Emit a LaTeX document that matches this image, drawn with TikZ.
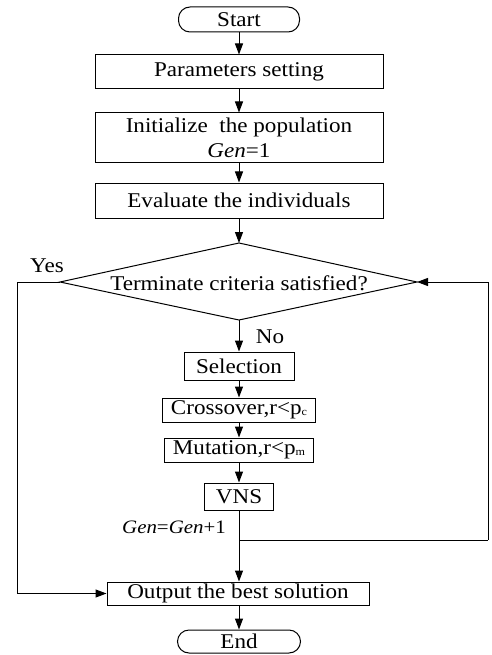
\documentclass[tikz,border=0pt]{standalone}
\usepackage{fontspec}
\setmainfont{Liberation Serif}[FakeStretch=1.1]
\usetikzlibrary{arrows.meta}
\begin{document}
\begin{tikzpicture}[x=1pt,y=-1pt,
  box/.style={draw, line width=1pt, inner sep=0pt, align=center},
  term/.style={draw, line width=1pt, rounded corners=11.5pt, inner sep=0pt},
  flow/.style={line width=1pt, -{Triangle[length=11pt,width=8pt]}},
  conn/.style={line width=1pt},
  lbl/.style={inner sep=0pt},
  font=\fontsize{21}{25}\selectfont]
\useasboundingbox (0,0) rectangle (491,655);
\node[term, minimum width=121pt, minimum height=25pt] (start) at (239,19.5) {Start};
\node[box, minimum width=288pt, minimum height=34pt] (params) at (239,72) {Parameters setting};
\node[box, minimum width=288pt, minimum height=50pt] (init) at (239,138) {Initialize\ \ the population\\\textit{Gen}=1};
\node[box, minimum width=288pt, minimum height=35pt] (eval) at (239,200.5) {Evaluate the individuals};
\coordinate (dtop) at (239,243);
\coordinate (dbot) at (239,320);
\coordinate (dl) at (60,282);
\coordinate (dr) at (417,282);
\draw[conn] (dtop) -- (dr) -- (dbot) -- (dl) -- cycle;
\node[lbl] (dec) at (239,283) {Terminate criteria satisfied?};
\node[lbl] (yes) at (47,266) {Yes};
\node[lbl] (no) at (270,337) {No};
\node[box, minimum width=110pt, minimum height=28pt] (sel) at (239,366) {Selection};
\node[box, minimum width=153pt, minimum height=24pt] (cross) at (239,410) {Crossover,r<p\raisebox{-1pt}{\fontsize{11}{11}\selectfont c}};
\node[box, minimum width=149pt, minimum height=24pt] (mut) at (239,450) {Mutation,r<p\raisebox{-1pt}{\fontsize{11}{11}\selectfont m}};
\node[box, minimum width=69pt, minimum height=27pt] (vns) at (239,496.5) {VNS};
\node[lbl, font=\fontsize{19}{22}\selectfont] (genl) at (174,527) {\textit{Gen}=\textit{Gen}+1};
\coordinate (join) at (239,540);
\coordinate (rc2) at (488,540);
\coordinate (rc1) at (488,282);
\coordinate (lc1) at (17,282);
\node[box, minimum width=262pt, minimum height=23pt] (out) at (238,593.5) {Output the best solution};
\node[term, minimum width=123pt, minimum height=23pt] (end) at (239,641.5) {End};
\draw[flow] (start) -- (params);
\draw[flow] (params) -- (init);
\draw[flow] (init) -- (eval);
\draw[flow] (eval) -- (dtop);
\draw[flow] (dbot) -- (sel);
\draw[flow] (sel) -- (cross);
\draw[flow] (cross) -- (mut);
\draw[flow] (mut) -- (vns);
\draw[flow] (vns.south) -- (vns.south |- out.north);
\draw[conn] (join) -- (rc2);
\draw[flow] (rc2) -- (rc1) -- (dr);
\draw[flow] (dl) -- (lc1) |- (out.west);
\draw[flow] (out.south -| end.north) -- (end.north);
\end{tikzpicture}
\end{document}
